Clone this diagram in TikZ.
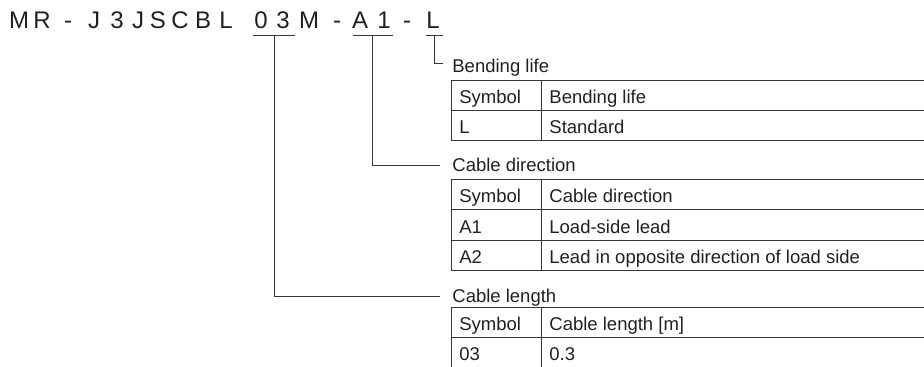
\documentclass[tikz,border=0pt]{standalone}
\usepackage{fontspec}
\setmainfont{Liberation Sans}
\usetikzlibrary{calc}
\definecolor{inkgray}{RGB}{35,31,32}
\definecolor{rulegray}{RGB}{55,55,55}

\begin{document}
\begin{tikzpicture}[x=0.5pt,y=-0.5pt,
    titlech/.style={font=\fontsize{12}{14}\selectfont,text=inkgray,anchor=base,inner sep=0pt},
    cell/.style={font=\fontsize{9.25}{11}\selectfont,text=inkgray,anchor=base west,inner sep=0pt},
    heading/.style={cell,inner xsep=6pt,inner ysep=0pt,text height=7.5pt,text depth=1.5pt},
    rule/.style={rulegray,line width=0.5pt}]
    \useasboundingbox (0,0) rectangle (924,367);
    \clip (0,0) rectangle (924,367);
    % model code, one letter per node
    \foreach \x/\c [count=\i] in {19/M,42/R,68/-,94/J,117/3,138/J,158/S,180/C,203/B,226/L,261/0,283/3,309/M,337/-,360/A,384/1,407/-,433/L}
      \node[titlech] (c\i) at (\x,29) {\c};
    % underlines of the coded parts
    \draw[rule] (253,36) -- (295,36) (353,36) -- (393,36) (426,36) -- (443,36);
    \coordinate (len) at (274,36);
    \coordinate (dir) at (372,36);
    \coordinate (life) at (434,36);
    % headings and leaders
    \node[heading] (hBend) at (440,73) {Bending life};
    \node[heading] (hDir) at (440,172) {Cable direction};
    \node[heading] (hLen) at (440,303) {Cable length};
    \draw[rule] (life) |- ($(hBend.west)+(3,-3)$);
    \draw[rule] (dir) |- (hDir.west);
    \draw[rule] (len) |- (hLen.west);
    % bending life table
    \foreach \r/\a/\b in {0/Symbol/Bending life,1/L/Standard} {
      \draw[rule] (451,81+30*\r) rectangle (930,111+30*\r) (541.5,81+30*\r) -- (541.5,111+30*\r);
      \node[cell] (bla\r) at (459,104+30*\r) {\a};
      \node[cell] (blb\r) at (549,104+30*\r) {\b};
    }
    % cable direction table
    \foreach \r/\a/\b in {0/Symbol/Cable direction,1/A1/Load-side lead,2/A2/Lead in opposite direction of load side} {
      \draw[rule] (451,179.5+30.4*\r) rectangle (930,209.9+30.4*\r) (541.5,179.5+30.4*\r) -- (541.5,209.9+30.4*\r);
      \node[cell] (cda\r) at (459,202.9+30.4*\r) {\a};
      \node[cell] (cdb\r) at (549,202.9+30.4*\r) {\b};
    }
    % cable length table (runs off the bottom)
    \foreach \r/\a/\b in {0/Symbol/{Cable length [m]},1/03/0.3} {
      \draw[rule] (451,307.5+30*\r) rectangle (930,337.5+30*\r) (541.5,307.5+30*\r) -- (541.5,337.5+30*\r);
      \node[cell] (cla\r) at (459,330.5+30*\r) {\a};
      \node[cell] (clb\r) at (549,330.5+30*\r) {\b};
    }
\end{tikzpicture}
\end{document}
